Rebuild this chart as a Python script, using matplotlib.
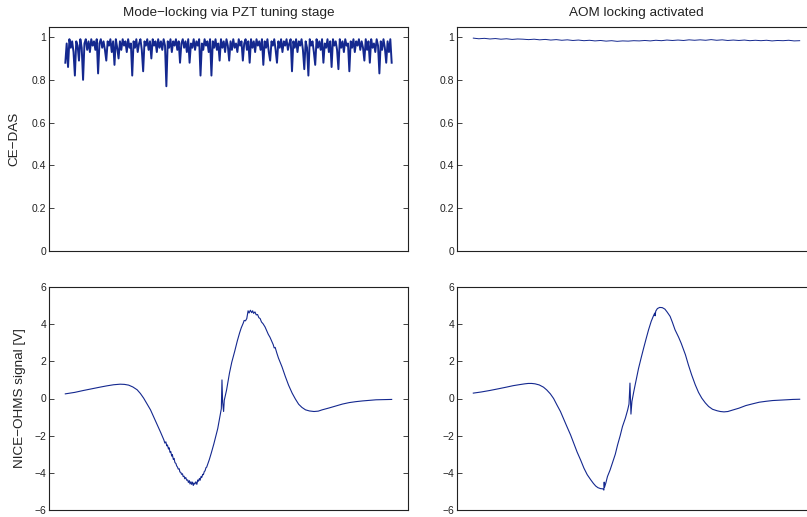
import numpy as np
import matplotlib
matplotlib.use("Agg")
import matplotlib.pyplot as plt

plt.rcParams["font.family"] = ["Liberation Sans", "DejaVu Sans"]
plt.rcParams["font.size"] = 7.5

# ---- CE-DAS transmission, PZT-only lock (normalised) ----
cedas_pzt = [
    0.88, 0.97, 0.86, 0.99, 0.95, 0.98, 0.93, 0.82, 0.98, 0.96,
    0.89, 0.99, 0.95, 0.80, 0.97, 0.99, 0.94, 0.98, 0.93, 0.99,
    0.96, 0.98, 0.94, 0.99, 0.83, 0.97, 0.99, 0.95, 0.98, 0.94,
    0.89, 0.98, 0.96, 0.99, 0.93, 0.98, 0.87, 0.99, 0.95, 0.90,
    0.98, 0.94, 0.99, 0.96, 0.98, 0.93, 0.99, 0.95, 0.97, 0.82,
    0.98, 0.95, 0.99, 0.93, 0.97, 0.99, 0.94, 0.84, 0.98, 0.96,
    0.99, 0.94, 0.98, 0.90, 0.99, 0.96, 0.98, 0.93, 0.99, 0.95,
    0.98, 0.94, 0.99, 0.96, 0.77, 0.98, 0.95, 0.99, 0.93, 0.98,
    0.96, 0.99, 0.94, 0.98, 0.88, 0.97, 0.99, 0.95, 0.98, 0.93,
    0.99, 0.88, 0.97, 0.95, 0.99, 0.94, 0.98, 0.96, 0.99, 0.82,
    0.97, 0.94, 0.99, 0.96, 0.98, 0.93, 0.99, 0.82, 0.98, 0.95,
    0.99, 0.94, 0.97, 0.89, 0.99, 0.95, 0.98, 0.93, 0.99, 0.96,
    0.89, 0.98, 0.94, 0.99, 0.95, 0.97, 0.93, 0.99, 0.96, 0.98,
    0.89, 0.97, 0.99, 0.94, 0.98, 0.88, 0.99, 0.95, 0.98, 0.93,
    0.99, 0.96, 0.98, 0.94, 0.99, 0.87, 0.98, 0.95, 0.99, 0.93,
    0.89, 0.98, 0.96, 0.99, 0.94, 0.88, 0.98, 0.95, 0.99, 0.93,
    0.98, 0.96, 0.99, 0.94, 0.97, 0.99, 0.84, 0.98, 0.95, 0.99,
    0.93, 0.98, 0.96, 0.99, 0.94, 0.85, 0.98, 0.95, 0.82, 0.99,
    0.96, 0.98, 0.93, 0.87, 0.99, 0.95, 0.98, 0.94, 0.99, 0.88,
    0.97, 0.95, 0.99, 0.93, 0.98, 0.86, 0.99, 0.96, 0.98, 0.94,
    0.85, 0.99, 0.95, 0.98, 0.93, 0.99, 0.96, 0.97, 0.84, 0.98,
    0.95, 0.99, 0.93, 0.98, 0.96, 0.99, 0.94, 0.98, 0.95, 0.89,
    0.99, 0.94, 0.98, 0.88, 0.99, 0.95, 0.97, 0.93, 0.99, 0.96,
    0.83, 0.98, 0.94, 0.99, 0.95, 0.88, 0.98, 0.93, 0.99, 0.88,
]

# ---- CE-DAS transmission, AOM lock engaged ----
cedas_aom = [
    0.995, 0.992, 0.994, 0.991, 0.993, 0.990, 0.992, 0.989, 0.991, 0.990,
    0.988, 0.990, 0.987, 0.989, 0.986, 0.988, 0.985, 0.987, 0.984, 0.986,
    0.983, 0.985, 0.982, 0.984, 0.981, 0.983, 0.980, 0.982, 0.981, 0.983,
    0.982, 0.984, 0.982, 0.985, 0.983, 0.986, 0.984, 0.986, 0.984, 0.987,
    0.985, 0.987, 0.985, 0.988, 0.985, 0.987, 0.984, 0.986, 0.984, 0.986,
    0.983, 0.985, 0.983, 0.985, 0.982, 0.984, 0.983, 0.985, 0.982, 0.983,
]

# ---- NICE-OHMS dispersion signal [V], PZT-only lock ----
nice_pzt_x = [
    0, 29, 55, 80, 106, 127, 148, 160, 168, 181, 194, 207, 220, 230, 240,
    250, 261, 271, 282, 292, 302, 305, 308, 311, 313, 316, 318, 321, 323,
    326, 328, 331, 333, 336, 339, 341, 344, 346, 349, 351, 354, 356, 359,
    361, 364, 366, 369, 372, 375, 377, 380, 382, 385, 387, 390, 392, 395,
    397, 400, 403, 406, 408, 411, 413, 416, 418, 421, 423, 426, 428, 431,
    433, 436, 441, 447, 455, 462, 467, 474, 478, 480, 482, 485, 487, 494,
    503, 510, 519, 527, 534, 539, 545, 548, 552, 556, 560, 563, 567, 571,
    574, 577, 581, 585, 589, 593, 597, 601, 606, 612, 617, 622, 627, 632,
    637, 640, 643, 648, 653, 664, 674, 684, 695, 705, 715, 725, 736, 748,
    762, 775, 787, 808, 829, 849, 870, 890, 911, 932, 952, 973, 1000,
]
nice_pzt_y = [
    0.25, 0.33, 0.43, 0.52, 0.61, 0.68, 0.74, 0.76, 0.77, 0.76, 0.72, 0.62,
    0.47, 0.27, 0.02, -0.28, -0.61, -1.00, -1.42, -1.82, -2.23, -2.40,
    -2.33, -2.55, -2.50, -2.72, -2.65, -2.90, -2.85, -3.10, -3.02, -3.28,
    -3.22, -3.45, -3.50, -3.62, -3.70, -3.80, -3.78, -3.95, -3.98, -4.08,
    -4.05, -4.20, -4.18, -4.32, -4.25, -4.40, -4.38, -4.52, -4.42, -4.60,
    -4.48, -4.62, -4.50, -4.68, -4.55, -4.60, -4.48, -4.62, -4.38, -4.45,
    -4.30, -4.40, -4.20, -4.25, -4.08, -4.10, -3.92, -3.90, -3.72, -3.70,
    -3.55, -3.30, -2.95, -2.45, -1.96, -1.62, -0.95, -0.55, 1.00, -0.20,
    -0.70, -0.10, 0.45, 1.37, 1.95, 2.54, 3.10, 3.53, 3.80, 4.05, 4.20,
    4.18, 4.30, 4.72, 4.60, 4.75, 4.62, 4.72, 4.58, 4.66, 4.50, 4.52,
    4.35, 4.30, 4.12, 4.02, 3.85, 3.65, 3.45, 3.30, 3.10, 2.90, 2.72,
    2.75, 2.45, 2.18, 1.70, 1.19, 0.72, 0.29, -0.03, -0.31, -0.48, -0.61,
    -0.67, -0.70, -0.68, -0.61, -0.51, -0.40, -0.30, -0.22, -0.17, -0.13,
    -0.10, -0.07, -0.06, -0.05,
]

# ---- NICE-OHMS dispersion signal [V], AOM lock engaged ----
nice_aom_x = [
    0, 24, 50, 76, 101, 122, 143, 158, 168, 179, 189, 202, 215, 225, 236,
    246, 256, 267, 277, 287, 298, 308, 318, 329, 339, 349, 360, 368, 375,
    382, 390, 397, 400, 401, 402, 406, 411, 419, 426, 435, 442, 450, 457,
    466, 473, 477, 480, 483, 486, 492, 499, 506, 514, 522, 530, 537, 545,
    552, 556, 557, 559, 564, 571, 579, 587, 594, 603, 610, 618, 629, 637,
    650, 659, 669, 680, 690, 700, 711, 721, 733, 747, 757, 768, 780, 793,
    814, 835, 855, 876, 897, 917, 938, 959, 979, 1000,
]
nice_aom_y = [
    0.29, 0.35, 0.43, 0.52, 0.61, 0.69, 0.75, 0.79, 0.81, 0.81, 0.79, 0.73,
    0.61, 0.46, 0.25, 0.00, -0.34, -0.70, -1.11, -1.52, -1.96, -2.42,
    -2.88, -3.32, -3.75, -4.10, -4.38, -4.57, -4.71, -4.80, -4.85, -4.86,
    -4.93, -4.50, -4.78, -4.55, -4.20, -3.85, -3.48, -3.00, -2.50, -2.00,
    -1.51, -1.05, -0.61, -0.30, 0.83, -0.84, -0.16, 0.40, 1.00, 1.60, 2.17,
    2.72, 3.25, 3.70, 4.15, 4.45, 4.60, 4.45, 4.70, 4.84, 4.90, 4.89, 4.81,
    4.65, 4.42, 4.10, 3.70, 3.30, 2.97, 2.35, 1.81, 1.27, 0.74, 0.33, 0.02,
    -0.24, -0.43, -0.58, -0.66, -0.70, -0.72, -0.70, -0.63, -0.52, -0.38,
    -0.29, -0.20, -0.15, -0.11, -0.09, -0.07, -0.05, -0.04,
]

titles = ["Mode\u2212locking via PZT tuning stage", "AOM locking activated"]
top_ylabel = "CE\u2212DAS"
bottom_ylabel = "NICE\u2212OHMS signal [V]"

line_color = "#14288f"
text_color = "#222222"
label_size = 9.7

fig = plt.figure(figsize=(8.07, 5.17), dpi=100)
W, H = 807.0, 517.0
ax_w = 359.0
lefts = [49.0, 457.0]
top_box = (27.0, 251.0)
bot_box = (287.0, 510.0)


def make_axes(left, box):
    top, bottom = box
    return fig.add_axes([left / W, 1 - bottom / H, ax_w / W, (bottom - top) / H])


def style(ax):
    ax.set_xlim(-50, 1050)
    ax.set_xticks([])
    ax.tick_params(axis="y", direction="in", left=True, right=True,
                   length=3.5, width=0.6, labelsize=7.5, pad=2,
                   colors=text_color)
    for s in ax.spines.values():
        s.set_linewidth(0.8)
        s.set_color(text_color)


top_series = [cedas_pzt, cedas_aom]
bot_series = [(nice_pzt_x, nice_pzt_y), (nice_aom_x, nice_aom_y)]

for k in range(2):
    ax = make_axes(lefts[k], top_box)
    vals = top_series[k]
    ax.plot(np.linspace(0, 1000, len(vals)), vals, color=line_color,
            lw=1.4 if k == 0 else 0.7)
    style(ax)
    ax.set_ylim(0, 1.047)
    ax.set_yticks([0, 0.2, 0.4, 0.6, 0.8, 1])
    ax.set_yticklabels(["0", "0.2", "0.4", "0.6", "0.8", "1"])
    ax.set_title(titles[k], fontsize=label_size, pad=8, color=text_color)
    if k == 0:
        ax.set_ylabel(top_ylabel, fontsize=label_size, labelpad=8,
                      color=text_color)

    ax = make_axes(lefts[k], bot_box)
    xs, ys = bot_series[k]
    ax.plot(xs, ys, color=line_color, lw=0.8)
    style(ax)
    ax.set_ylim(-6, 6)
    ax.set_yticks([-6, -4, -2, 0, 2, 4, 6])
    if k == 0:
        ax.set_ylabel(bottom_ylabel, fontsize=label_size, labelpad=6,
                      color=text_color)

fig.savefig("out.png", dpi=100)
